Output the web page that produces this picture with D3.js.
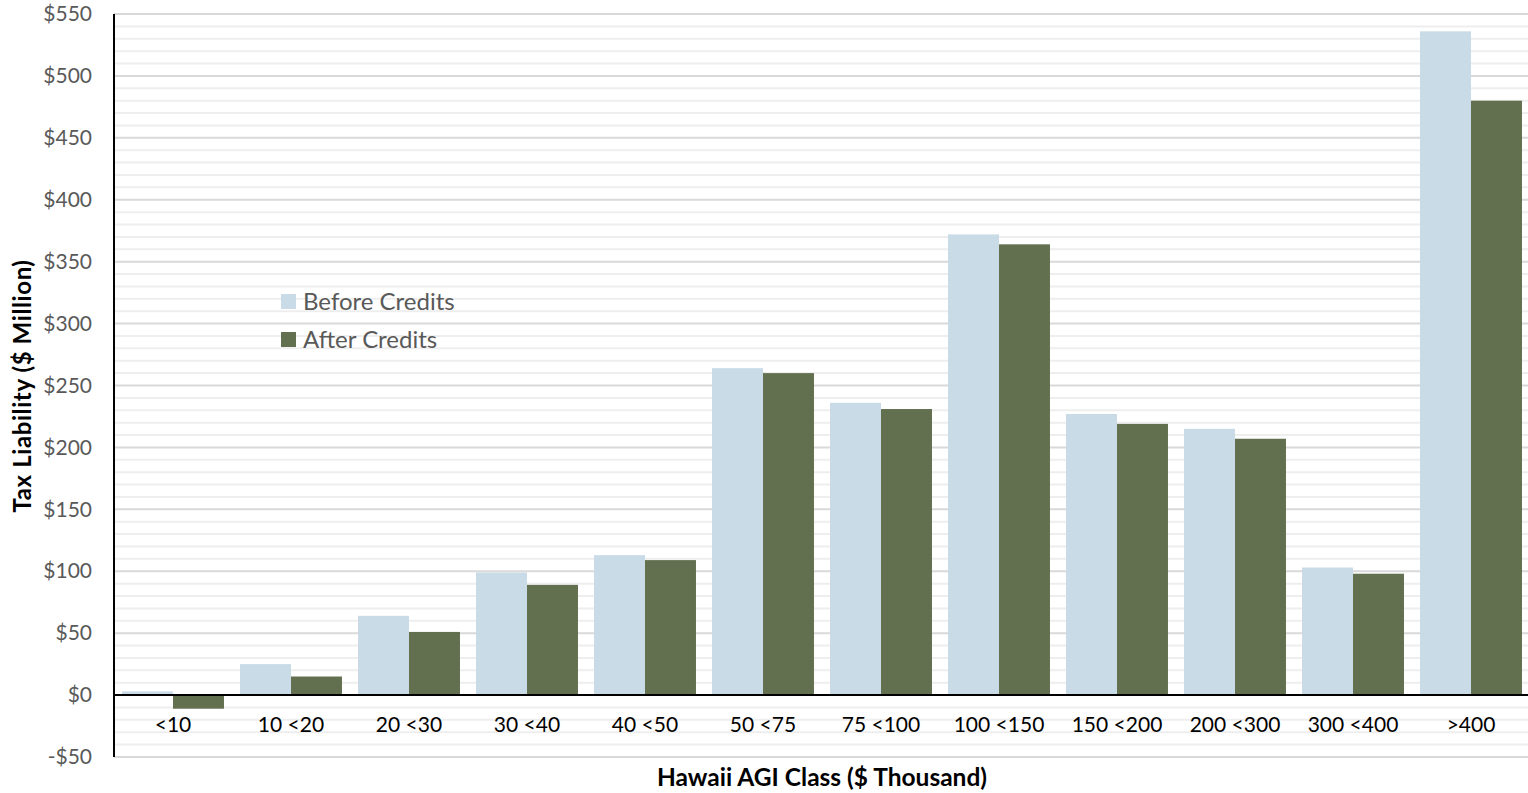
<!DOCTYPE html>
<html><head><meta charset="utf-8">
<script src="https://cdn.jsdelivr.net/npm/d3@7"></script>
<style>body{margin:0;background:#fff}svg{display:block}</style>
</head><body><svg id="c" width="1528" height="793"></svg>
<script>
const categories = ["<10","10 <20","20 <30","30 <40","40 <50","50 <75","75 <100","100 <150","150 <200","200 <300","300 <400",">400"];
const beforeCredits = [3, 25, 64, 99, 113, 264, 236, 372, 227, 215, 103, 536];
const afterCredits = [-11, 15, 51, 89, 109, 260, 231, 364, 219, 207, 98, 480];
const seriesNames = ["Before Credits","After Credits"];
const yTicks = [-50,0,50,100,150,200,250,300,350,400,450,500,550];

(function(){
const colors = ["#C9DBE7","#637050"];
const svg = d3.select("#c");
const font = "Lato, 'Open Sans', sans-serif";
const mL = 114, mR = 1530, mT = 14, mB = 757;

const y = d3.scaleLinear().domain([-50,550]).range([mB, mT]);
const x = d3.scaleBand().domain(categories).range([mL, mR]).paddingInner(0.136).paddingOuter(0.068);
const x1 = d3.scaleBand().domain(seriesNames).range([0, x.bandwidth()]);

// gridlines
const minor = d3.range(-50, 551, 10);
svg.append("g").selectAll("line").data(minor).join("line")
  .attr("x1", mL).attr("x2", 1528)
  .attr("y1", d => y(d)).attr("y2", d => y(d))
  .attr("stroke", d => d % 50 === 0 ? "#D9D9D9" : "#EEEEEE")
  .attr("stroke-width", 2);

// bars
const data = categories.map((c,i) => ({c, vals:[beforeCredits[i], afterCredits[i]]}));
const g = svg.append("g").selectAll("g").data(data).join("g")
  .attr("transform", d => `translate(${x(d.c)},0)`);
g.selectAll("rect").data(d => d.vals.map((v,j) => ({v, s: seriesNames[j], j}))).join("rect")
  .attr("x", d => x1(d.s))
  .attr("width", x1.bandwidth())
  .attr("y", d => y(Math.max(0, d.v)))
  .attr("height", d => Math.abs(y(d.v) - y(0)))
  .attr("fill", d => colors[d.j]);

// y axis
const yAxis = d3.axisLeft(y).tickValues(yTicks).tickSize(0).tickPadding(22)
  .tickFormat(d => (d < 0 ? "-$" : "$") + Math.abs(d));
const ya = svg.append("g").attr("transform", `translate(${mL},0)`).call(yAxis);
ya.select(".domain").remove();
ya.selectAll("text").attr("font-family", font).attr("font-size", 21).attr("fill", "#595959");
svg.append("line").attr("x1", mL).attr("x2", mL).attr("y1", mT).attr("y2", mB)
  .attr("stroke", "#000").attr("stroke-width", 2);

// zero line
svg.append("line").attr("x1", mL).attr("x2", 1528).attr("y1", y(0)).attr("y2", y(0))
  .attr("stroke", "#000").attr("stroke-width", 2);

// x axis labels
const xAxis = d3.axisBottom(x).tickSize(0).tickPadding(22);
const xa = svg.append("g").attr("transform", `translate(0,${y(0)})`).call(xAxis);
xa.select(".domain").remove();
xa.selectAll("text").attr("font-family", font).attr("font-size", 21).attr("fill", "#000");

// axis titles
svg.append("text").attr("x", 822).attr("y", 786).attr("text-anchor", "middle")
  .attr("font-family", font).attr("font-weight", "bold").attr("font-size", 24.5).attr("fill", "#000")
  .text("Hawaii AGI Class ($ Thousand)");
svg.append("text").attr("transform", "translate(31,386) rotate(-90)").attr("text-anchor", "middle")
  .attr("font-family", font).attr("font-weight", "bold").attr("font-size", 24).attr("letter-spacing", 0.6).attr("fill", "#000")
  .text("Tax Liability ($ Million)");

// legend
const lg = svg.append("g").selectAll("g").data(seriesNames).join("g")
  .attr("transform", (d,i) => `translate(281,${294 + i*38})`);
lg.append("rect").attr("width", 15).attr("height", 15).attr("fill", (d,i) => colors[i]);
lg.append("text").attr("x", 22).attr("y", 16).attr("font-family", font).attr("font-size", 24)
  .attr("fill", "#595959").text(d => d);
})();
</script></body></html>
